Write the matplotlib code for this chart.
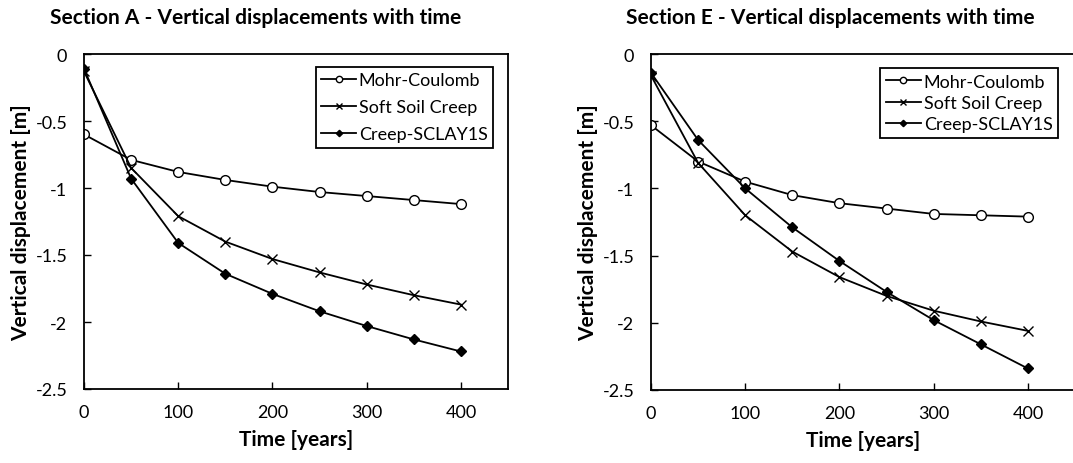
import matplotlib
matplotlib.use('Agg')
import matplotlib.pyplot as plt

plt.rcParams['font.family'] = ['Lato', 'DejaVu Sans']

time_years = [0, 50, 100, 150, 200, 250, 300, 350, 400]
series_names = ['Mohr-Coulomb', 'Soft Soil Creep', 'Creep-SCLAY1S']

# Section A
a_mohr = [-0.60, -0.79, -0.88, -0.94, -0.99, -1.03, -1.06, -1.09, -1.12]
a_ssc = [-0.13, -0.85, -1.21, -1.40, -1.53, -1.63, -1.72, -1.80, -1.87]
a_sclay = [-0.11, -0.93, -1.41, -1.64, -1.79, -1.92, -2.03, -2.13, -2.22]

# Section E
e_mohr = [-0.53, -0.80, -0.95, -1.05, -1.11, -1.15, -1.19, -1.20, -1.21]
e_ssc = [-0.16, -0.81, -1.20, -1.47, -1.66, -1.80, -1.91, -1.99, -2.06]
e_sclay = [-0.14, -0.64, -1.00, -1.29, -1.54, -1.77, -1.98, -2.16, -2.34]

x_ticks = [0, 100, 200, 300, 400]
y_ticks = [0, -0.5, -1, -1.5, -2, -2.5]
y_tick_labels = ['0', '-0.5', '-1', '-1.5', '-2', '-2.5']

styles = [
    dict(marker='o', markerfacecolor='white', markersize=7, markeredgewidth=1.0),
    dict(marker='x', markersize=7, markeredgewidth=1.0),
    dict(marker='D', markerfacecolor='black', markersize=5),
]

fig = plt.figure(figsize=(10.73, 4.64), dpi=100)

# (title, data, axes rect, title centre px, legend anchor, legend row spacing)
panels = [
    ('Section A - Vertical displacements with time', [a_mohr, a_ssc, a_sclay],
     [84 / 1073, 1 - 390 / 464, 424 / 1073, 335 / 464], 256, (0.965, 0.961), 0.6),
    ('Section E - Vertical displacements with time', [e_mohr, e_ssc, e_sclay],
     [651 / 1073, 1 - 391 / 464, 424 / 1073, 336 / 464], 830, (0.96, 0.958), 0.3),
]

for title, data, rect, title_x, leg_anchor, spacing in panels:
    ax = fig.add_axes(rect)
    for name, values, st in zip(series_names, data, styles):
        ax.plot(time_years, values, color='black', linewidth=1.3, label=name, **st)

    ax.set_xlim(0, 450)
    ax.set_ylim(-2.5, 0)
    ax.set_xticks(x_ticks)
    ax.set_yticks(y_ticks)
    ax.set_yticklabels(y_tick_labels)
    ax.tick_params(labelsize=13, length=5, width=1, direction='in')
    ax.tick_params(axis='y', pad=12)
    ax.tick_params(axis='x', pad=11)
    for s in ax.spines.values():
        s.set_linewidth(1.3)

    ax.set_xlabel('Time [years]', fontsize=15, fontweight='bold', labelpad=6)
    ax.set_ylabel('Vertical displacement [m]', fontsize=15, fontweight='bold', labelpad=3)

    leg = ax.legend(loc='upper right', bbox_to_anchor=leg_anchor, fontsize=13,
                    fancybox=False, framealpha=1, edgecolor='black',
                    handlelength=1.95, handletextpad=0.15, borderpad=0.3,
                    labelspacing=spacing, borderaxespad=0, markerscale=0.65)
    leg.get_frame().set_linewidth(1.3)

    fig.text(title_x / 1073, 1 - 18 / 464, title, ha='center', va='center',
             fontsize=15, fontweight='bold')

fig.savefig('out.png', dpi=100)
